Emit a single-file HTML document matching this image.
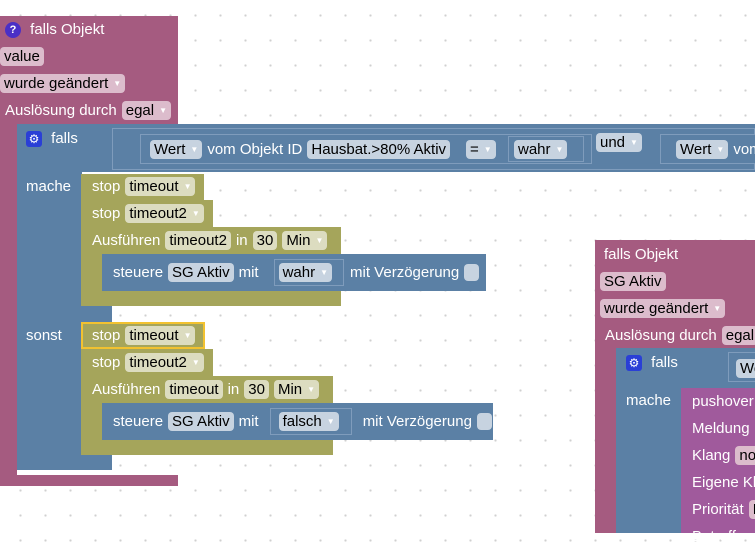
<!DOCTYPE html>
<html><head><meta charset="utf-8"><style>
*{box-sizing:border-box;margin:0;padding:0}
body{width:755px;height:533px;overflow:hidden;position:relative;font-family:"Liberation Sans",Arial,sans-serif;font-size:15px;
background-color:#fff;background-image:radial-gradient(circle,#d0d0d0 1px,transparent 1.3px);background-size:25px 25px;background-position:8px 3px}
.b{position:absolute}
.pk{background:#a55b80}.bl{background:#5b80a5}.ol{background:#a5a55b}.pu{background:#a05a9c}
.t{position:absolute;color:#fff;white-space:nowrap;line-height:19px;display:flex;align-items:center;gap:5px}
.f{border-radius:4px;padding:0 4px;color:#000;line-height:19px;height:19px;display:inline-block}
.fp{background:#dcbccc}.fb{background:#c7d3e0}.fo{background:#dcdcc0}
.arr{font-size:8px;color:#fff;margin-left:5px;vertical-align:2px}
.ib{position:absolute;border:1px solid #7f9cbc;background:#5b80a5}
.cb{width:15px;height:17px;background:#c7d3e0;border-radius:4px;display:inline-block}
</style></head><body>
<div class="b pk" style="left:0;top:16px;width:178px;height:110px"></div>
<div class="b pk" style="left:0;top:120px;width:17px;height:366px"></div>
<div class="b pk" style="left:0;top:475px;width:178px;height:11px"></div>
<div class="t" style="left:5px;top:20px"><span style="width:16px;height:16px;border-radius:8px;background:#4a2fc6;color:#fff;font-size:11px;text-align:center;line-height:16px;font-weight:bold">?</span>&nbsp;falls Objekt</div>
<div class="t" style="left:0;top:47px"><span class="f fp">value</span></div>
<div class="t" style="left:0;top:74px"><span class="f fp">wurde geändert<span class="arr">▼</span></span></div>
<div class="t" style="left:5px;top:101px">Auslösung durch<span class="f fp">egal<span class="arr">▼</span></span></div>

<div class="b bl" style="left:17px;top:124px;width:738px;height:48px"></div>
<div class="b bl" style="left:17px;top:170px;width:65px;height:300px"></div>
<div class="b bl" style="left:80px;top:306px;width:32px;height:16px"></div>
<div class="b bl" style="left:17px;top:455px;width:95px;height:15px"></div>
<div class="t" style="left:26px;top:129px"><span style="width:16px;height:16px;border-radius:3px;background:#2a3fd6;color:#fff;font-size:12px;text-align:center;line-height:16px">⚙</span>&nbsp;falls</div>
<div class="ib" style="left:112px;top:128px;width:643px;height:42px"></div>
<div class="ib" style="left:140px;top:134px;width:452px;height:30px"></div>
<div class="t" style="left:150px;top:140px"><span class="f fb">Wert<span class="arr">▼</span></span>vom Objekt ID<span class="f fb">Hausbat.&gt;80% Aktiv</span></div>
<div class="t" style="left:466px;top:140px"><span class="f fb">=<span class="arr">▼</span></span></div>
<div class="ib" style="left:508px;top:136px;width:76px;height:26px"></div>
<div class="t" style="left:514px;top:140px"><span class="f fb">wahr<span class="arr">▼</span></span></div>
<div class="t" style="left:596px;top:133px"><span class="f fb">und<span class="arr">▼</span></span></div>
<div class="ib" style="left:660px;top:134px;width:100px;height:30px"></div>
<div class="t" style="left:676px;top:140px"><span class="f fb">Wert<span class="arr">▼</span></span>vom</div>
<div class="t" style="left:26px;top:177px">mache</div>
<div class="t" style="left:26px;top:326px">sonst</div>

<div class="b ol" style="left:81px;top:174px;width:123px;height:26px"></div>
<div class="t" style="left:92px;top:177px">stop<span class="f fo">timeout<span class="arr">▼</span></span></div>
<div class="b ol" style="left:81px;top:200px;width:132px;height:27px"></div>
<div class="t" style="left:92px;top:204px">stop<span class="f fo">timeout2<span class="arr">▼</span></span></div>
<div class="b ol" style="left:81px;top:227px;width:260px;height:27px"></div>
<div class="b ol" style="left:81px;top:250px;width:21px;height:45px"></div>
<div class="b ol" style="left:81px;top:291px;width:260px;height:15px"></div>
<div class="t" style="left:92px;top:231px">Ausführen<span class="f fo">timeout2</span>in<span class="f fo">30</span><span class="f fo">Min<span class="arr">▼</span></span></div>
<div class="b bl" style="left:102px;top:254px;width:384px;height:37px"></div>
<div class="ib" style="left:274px;top:259px;width:70px;height:27px"></div>
<div class="t" style="left:113px;top:263px">steuere<span class="f fb">SG Aktiv</span>mit<span style="width:10px"></span><span class="f fb">wahr<span class="arr">▼</span></span><span style="width:8px"></span>mit Verzögerung<span class="cb"></span></div>

<div class="b ol" style="left:81px;top:322px;width:124px;height:27px;border:2px solid #f2c230"></div>
<div class="t" style="left:92px;top:326px">stop<span class="f fo">timeout<span class="arr">▼</span></span></div>
<div class="b ol" style="left:81px;top:349px;width:132px;height:27px"></div>
<div class="t" style="left:92px;top:353px">stop<span class="f fo">timeout2<span class="arr">▼</span></span></div>
<div class="b ol" style="left:81px;top:376px;width:252px;height:27px"></div>
<div class="b ol" style="left:81px;top:400px;width:21px;height:45px"></div>
<div class="b ol" style="left:81px;top:440px;width:252px;height:15px"></div>
<div class="t" style="left:92px;top:380px">Ausführen<span class="f fo">timeout</span>in<span class="f fo">30</span><span class="f fo">Min<span class="arr">▼</span></span></div>
<div class="b bl" style="left:102px;top:403px;width:391px;height:37px"></div>
<div class="ib" style="left:270px;top:408px;width:82px;height:27px"></div>
<div class="t" style="left:113px;top:412px">steuere<span class="f fb">SG Aktiv</span>mit<span style="width:10px"></span><span class="f fb">falsch<span class="arr">▼</span></span><span style="width:14px"></span>mit Verzögerung<span class="cb"></span></div>

<div class="b pk" style="left:595px;top:240px;width:160px;height:293px"></div>
<div class="t" style="left:604px;top:245px">falls Objekt</div>
<div class="t" style="left:600px;top:272px"><span class="f fp">SG Aktiv</span></div>
<div class="t" style="left:600px;top:299px"><span class="f fp">wurde geändert<span class="arr">▼</span></span></div>
<div class="t" style="left:605px;top:326px">Auslösung durch<span class="f fp">egal</span></div>
<div class="b bl" style="left:616px;top:348px;width:139px;height:185px"></div>
<div class="ib" style="left:728px;top:352px;width:30px;height:30px"></div>
<div class="t" style="left:626px;top:353px"><span style="width:16px;height:16px;border-radius:3px;background:#2a3fd6;color:#fff;font-size:12px;text-align:center;line-height:16px">⚙</span>&nbsp;falls</div>
<div class="t" style="left:736px;top:359px"><span class="f fb">We</span></div>
<div class="t" style="left:626px;top:391px">mache</div>
<div class="b pu" style="left:681px;top:388px;width:74px;height:145px"></div>
<div class="t" style="left:692px;top:392px">pushover</div>
<div class="t" style="left:692px;top:419px">Meldung</div>
<div class="t" style="left:692px;top:446px">Klang<span class="f fp">no</span></div>
<div class="t" style="left:692px;top:473px">Eigene Kl</div>
<div class="t" style="left:692px;top:500px">Priorität<span class="f fp">N</span></div>
<div class="t" style="left:692px;top:527px">Betreff</div>
</body></html>
